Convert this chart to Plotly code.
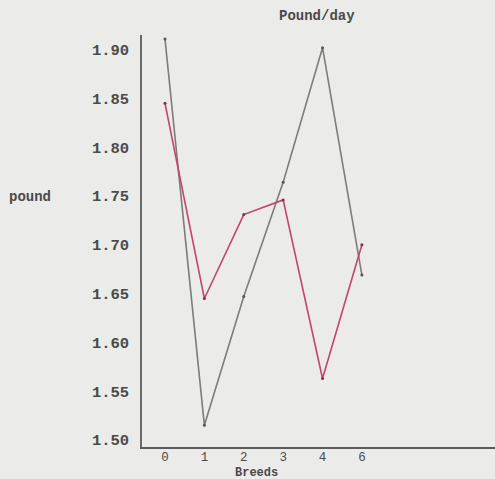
import plotly.graph_objects as go

breeds = ["0", "1", "2", "3", "4", "6"]
series_gray = [1.911, 1.515, 1.647, 1.764, 1.902, 1.669]
series_red = [1.845, 1.645, 1.731, 1.746, 1.563, 1.700]
y_ticks = [1.50, 1.55, 1.60, 1.65, 1.70, 1.75, 1.80, 1.85, 1.90]
y_tick_labels = ["1.50", "1.55", "1.60", "1.65", "1.70", "1.75", "1.80", "1.85", "1.90"]

FONT = "Liberation Mono"
BG = "#ebebe9"
TXT = "#4a4a4a"

fig = go.Figure()
fig.add_trace(go.Scatter(
    x=breeds, y=series_gray, mode="lines+markers",
    line=dict(color="#7c7c7e", width=1.6),
    marker=dict(size=3, color="#555555"),
    showlegend=False,
))
fig.add_trace(go.Scatter(
    x=breeds, y=series_red, mode="lines+markers",
    line=dict(color="#c4446e", width=1.6),
    marker=dict(size=3, color="#7a3346"),
    showlegend=False,
))

fig.update_layout(
    width=495, height=479,
    margin=dict(l=142, r=0, t=35, b=32),
    paper_bgcolor=BG, plot_bgcolor=BG,
    font=dict(family=FONT, color=TXT, size=14),
    title=dict(text="<b>Pound/day</b>", x=0.64, xanchor="center",
               y=1 - 15 / 479, yanchor="middle", yref="container",
               font=dict(family=FONT, size=14, color=TXT)),
    xaxis=dict(
        type="category", range=[-0.584, 8.38],
        showgrid=False, zeroline=False,
        showline=True, linecolor="#5a5a5a", linewidth=1.8,
        ticks="", ticklabelstandoff=-3,
        tickfont=dict(family=FONT, size=12.5, color=TXT),
        fixedrange=True,
    ),
    yaxis=dict(
        range=[1.4928, 1.915],
        tickvals=y_ticks, ticktext=[f"<b>{t}</b>" for t in y_tick_labels],
        showgrid=False, zeroline=False,
        showline=True, linecolor="#6a6a6a", linewidth=1.5,
        ticks="", ticklabelstandoff=8,
        tickfont=dict(family=FONT, size=15.5, color=TXT),
        fixedrange=True,
    ),
    annotations=[
        dict(text="<b>Breeds</b>", xref="paper", yref="paper",
             x=(256 - 142) / 353, y=-0.0625, xanchor="center", yanchor="middle",
             showarrow=False, font=dict(family=FONT, size=12, color=TXT)),
        dict(text="<b>pound</b>", xref="paper", yref="paper",
             x=-0.317, y=0.607, xanchor="center", yanchor="middle",
             showarrow=False, font=dict(family=FONT, size=14, color=TXT)),
    ],
)

fig.write_html("out.html", config={"displayModeBar": False},
               post_script="document.body.style.margin='0';document.body.style.padding='0';")
